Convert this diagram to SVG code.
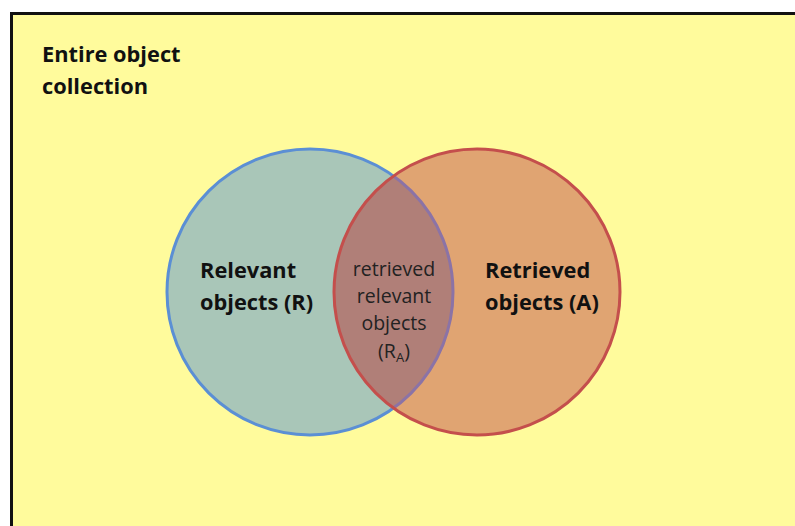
<svg xmlns="http://www.w3.org/2000/svg" width="795" height="526" viewBox="0 0 795 526">
<defs>
<style>
.b{font-family:"Open Sans","Liberation Sans",sans-serif;font-weight:bold;font-size:21.8px;fill:#111}
.n{font-family:"Open Sans","Liberation Sans",sans-serif;font-size:19.5px;fill:#222;text-anchor:middle}
</style>
<clipPath id="cl"><circle cx="310" cy="292" r="143"/></clipPath>
<clipPath id="cr"><circle cx="477" cy="292" r="143"/></clipPath>
</defs>
<rect width="795" height="526" fill="#fff"/>
<g id="collection">
<rect x="11.5" y="13.5" width="800" height="530" fill="#fffb9c" stroke="#111" stroke-width="3"/>
<text class="b" x="42" y="62">Entire object</text>
<text class="b" x="42" y="94">collection</text>
</g>
<g id="relevant">
<circle cx="310" cy="292" r="143" fill="#a9c6b8" stroke="#5b8fd4" stroke-width="3"/>
<text class="b" x="200" y="278">Relevant</text>
<text class="b" x="200" y="310">objects (R)</text>
</g>
<g id="retrieved">
<circle cx="477" cy="292" r="143" fill="#e0a472"/>
<circle cx="477" cy="292" r="143" clip-path="url(#cl)" fill="#b07f78"/>
<circle cx="310" cy="292" r="143" fill="none" stroke="#8b73a6" stroke-width="3" clip-path="url(#cr)"/>
<circle cx="477" cy="292" r="143" fill="none" stroke="#c44f4c" stroke-width="3"/>
<text class="b" x="485" y="278">Retrieved</text>
<text class="b" x="485" y="310">objects (A)</text>
</g>
<g id="intersection">
<text class="n" x="394" y="276">retrieved</text>
<text class="n" x="394" y="303">relevant</text>
<text class="n" x="394" y="330">objects</text>
<text class="n" x="394" y="358">(R<tspan font-size="13" dy="4">A</tspan><tspan dy="-4">)</tspan></text>
</g>
<g id="connectors"/>
</svg>
